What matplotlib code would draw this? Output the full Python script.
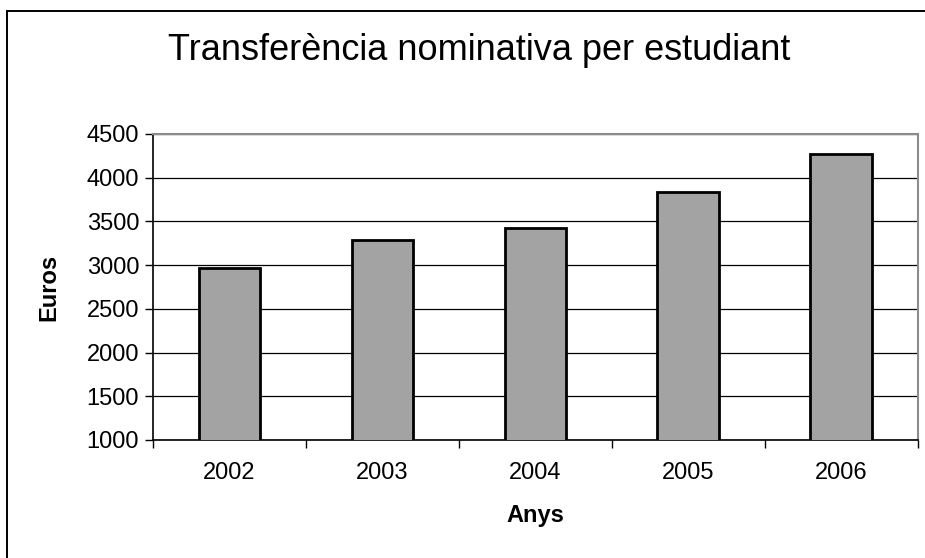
import matplotlib.pyplot as plt
from matplotlib.patches import Rectangle

# dades
anys = ['2002', '2003', '2004', '2005', '2006']
euros = [2962, 3287, 3427, 3837, 4267]

plt.rcParams['font.family'] = ['Liberation Sans', 'DejaVu Sans']

fig = plt.figure(figsize=(9.25, 5.58), dpi=100)
ax = fig.add_axes([0.1654, 0.2115, 0.8270, 0.5484])

x = list(range(len(anys)))
ax.bar(x, euros, width=0.405, color='#a3a3a3', edgecolor='black',
       linewidth=2, zorder=3)

ax.set_ylim(1000, 4500)
ax.set_xlim(-0.5, len(anys) - 0.5)
ax.set_yticks(range(1000, 4501, 500))
ax.yaxis.grid(True, color='black', linewidth=0.9, zorder=0)

# ticks between categories, labels at centres
ax.set_xticks([i - 0.5 for i in range(len(anys) + 1)])
ax.set_xticklabels([])
ax.set_xticks(x, minor=True)
ax.set_xticklabels(anys, minor=True)
ax.tick_params(axis='x', which='major', length=6, width=1, direction='out')
ax.tick_params(axis='x', which='minor', length=0, pad=16, labelsize=17)
ax.tick_params(axis='y', length=6, width=1, direction='out', labelsize=17, pad=4)

for s in ['top', 'right']:
    ax.spines[s].set_color('#8c8c8c')
    ax.spines[s].set_linewidth(1.5)
for s in ['left', 'bottom']:
    ax.spines[s].set_color('black')
    ax.spines[s].set_linewidth(1.2)

ax.set_xlabel('Anys', fontsize=17, fontweight='bold', labelpad=14)
ax.set_ylabel('Euros', fontsize=17, fontweight='bold', labelpad=19)

fig.text(0.518, 0.91, 'Transferència nominativa per estudiant',
         ha='center', va='center', fontsize=26)

# marc exterior
fig.patches.append(Rectangle((0.0078, -0.01), 1.0, 0.99, transform=fig.transFigure,
                             fill=False, edgecolor='black', linewidth=1.4))

fig.savefig('out.png', dpi=100)
